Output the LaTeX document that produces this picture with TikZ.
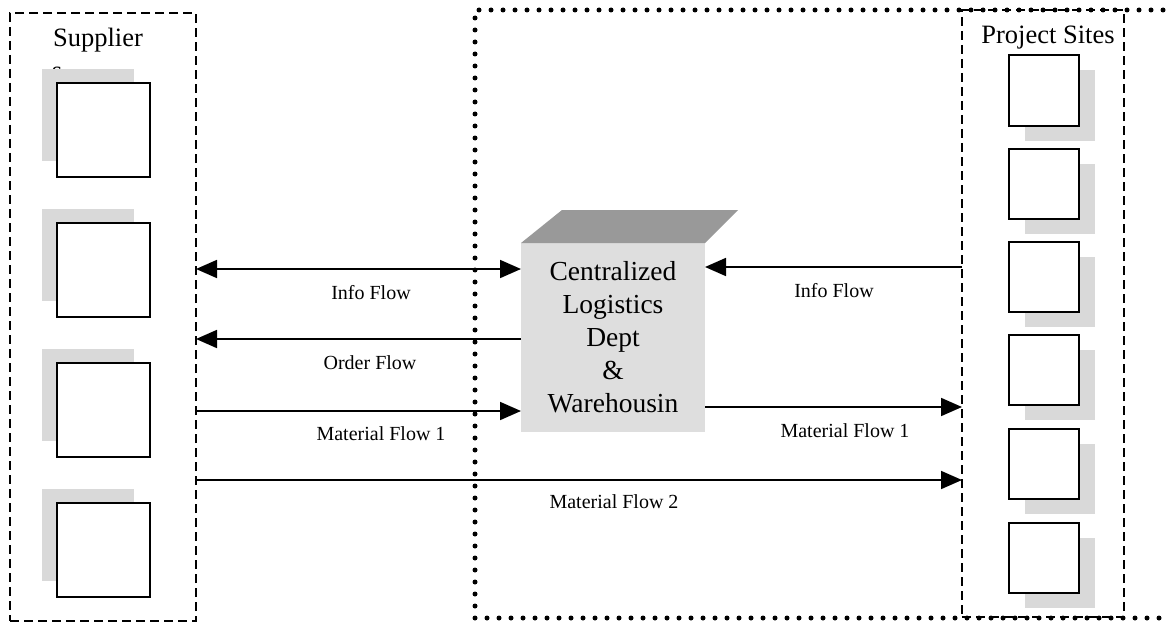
\documentclass[tikz,border=0pt]{standalone}
\usepackage{fontspec}
\setmainfont{Liberation Serif}
\usetikzlibrary{arrows.meta}

\begin{document}
\begin{tikzpicture}[x=1pt,y=-1pt,
  every node/.style={inner sep=0pt, outer sep=0pt},
  >={Triangle[length=21pt,width=18pt]},
  region/.style={draw, line width=5pt, line cap=round, dash pattern=on 0pt off 12pt},
  group/.style={draw, line width=2pt, dash pattern=on 9pt off 5pt},
  unit/.style={draw, line width=2pt, fill=white, minimum width=93pt, minimum height=94pt},
  site/.style={draw, line width=2pt, fill=white, minimum width=70pt, minimum height=70pt},
  halftone/.style={fill=black!15},
  hubbox/.style={fill=black!13, minimum width=184pt, minimum height=189pt, align=center,
    font=\fontsize{27.5}{33}\selectfont},
  flow/.style={line width=1.8pt},
  title/.style={font=\fontsize{26.5}{30}\selectfont, anchor=base},
  lbl/.style={font=\fontsize{20}{24}\selectfont, anchor=base}
]
\useasboundingbox (0,0) rectangle (1166,623);

% logistics region, open on the right
\coordinate (hubtr) at (1163,10);
\coordinate (hubtl) at (475,10);
\coordinate (hubbl) at (475,618);
\coordinate (hubbr) at (1163,618);
\draw[region] (hubtr) -- (hubtl) -- (hubbl) -- (hubbr);

% supplier group
\node[group, minimum width=186pt, minimum height=608pt] (suppliers) at (103,317) {};
\node[title] (suptitle) at (98,47) {Supplier};
\begin{scope}
  \clip (40,55) rectangle (80,72);
  \node[title] (supwrap) at (57,80) {s};
\end{scope}
\foreach \i/\y in {1/130,2/270,3/410,4/550}{
  \fill[halftone] (103.5-16-46,\y-15-46) rectangle ++(92,92);
  \node[unit] (s\i) at (103.5,\y) {};
}

% project sites group
\node[group, minimum width=162pt, minimum height=607pt] (sites) at (1043,313.5) {};
\node[title] (sitetitle) at (1048,44) {Project Sites};
\foreach \i/\y in {1/90.5,2/183.5,3/277,4/370,5/463.5,6/557.5}{
  \fill[halftone] (1044+16-35,\y+15-35) rectangle ++(70,70);
  \node[site] (p\i) at (1044,\y) {};
}

% central logistics block
\node[hubbox] (cld) at (613,337.5) {Centralized\\Logistics\\Dept\\\&\\Warehousin};
\fill[black!40] (cld.north west) -- (562,210) -- (738,210) -- (cld.north east) -- cycle;

% flows between suppliers and the central block
\draw[flow,<->] (suppliers.east |- 0,269) -- (cld.west |- 0,269);
\draw[flow,->] (cld.west |- 0,339) -- (suppliers.east |- 0,339);
\draw[flow,->] (suppliers.east |- 0,411) -- (cld.west |- 0,411);
\draw[flow,->] (suppliers.east |- 0,480) -- (sites.west |- 0,480);

% flows between the central block and the sites
\draw[flow,->] (sites.west |- 0,267) -- (cld.east |- 0,267);
\draw[flow,->] (cld.east |- 0,407) -- (sites.west |- 0,407);

% flow labels
\node[lbl] (l1) at (371,299) {Info Flow};
\node[lbl] (l2) at (370,369) {Order Flow};
\node[lbl] (l3) at (381,440) {Material Flow 1};
\node[lbl] (l4) at (834,297) {Info Flow};
\node[lbl] (l5) at (845,437) {Material Flow 1};
\node[lbl] (l6) at (614,508) {Material Flow 2};
\end{tikzpicture}
\end{document}
